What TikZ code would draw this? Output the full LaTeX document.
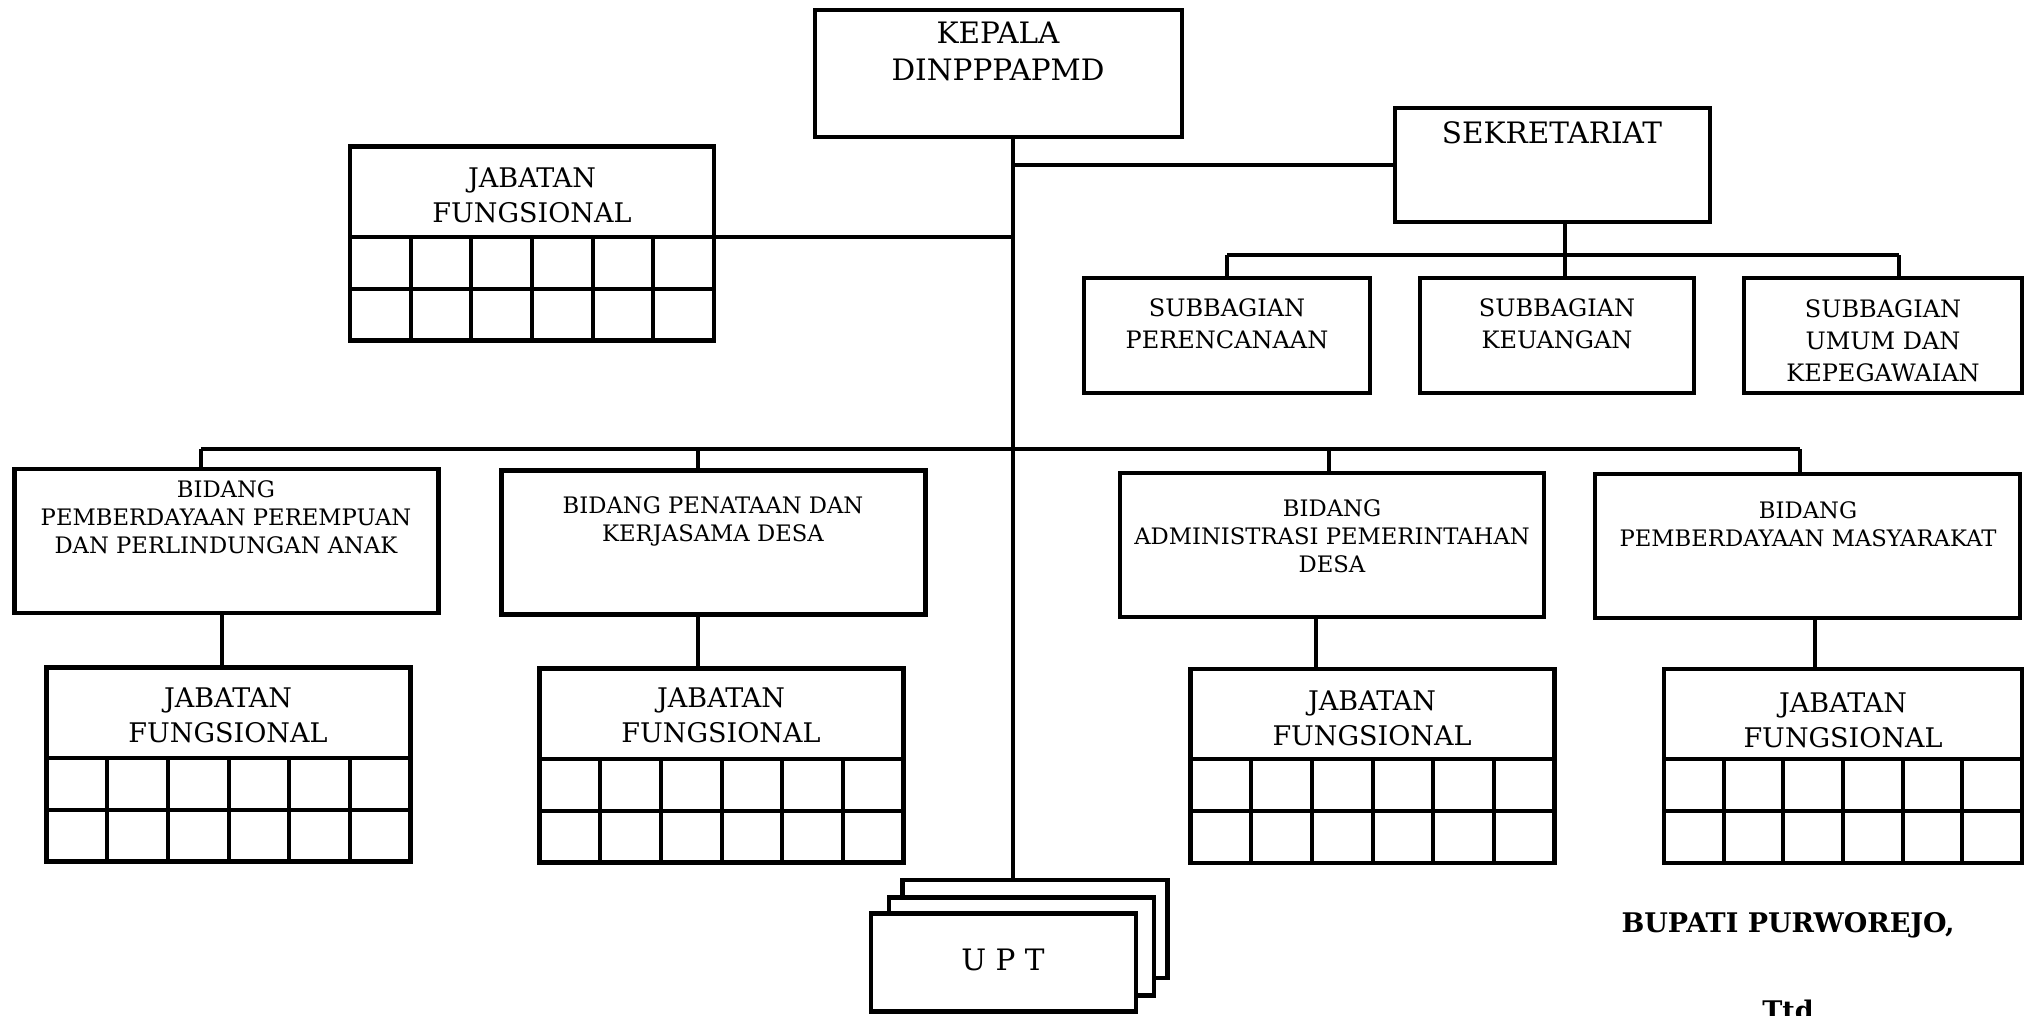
\documentclass[tikz,border=0pt]{standalone}
\usepackage{fontspec}
\setmainfont{DejaVu Serif}
\usetikzlibrary{calc}
\begin{document}
\begin{tikzpicture}
  [x=1pt,y=-1pt,
   box/.style={draw,line width=4.5pt,fill=white,inner sep=0pt,outer sep=0pt},
   txt/.style={align=center,inner sep=0pt},
   big/.style={txt,font=\fontsize{27}{35}\selectfont},
   head/.style={txt,font=\fontsize{29.5}{37}\selectfont},
   sub/.style={txt,font=\fontsize{24}{32}\selectfont},
   bid/.style={txt,font=\fontsize{22.7}{28}\selectfont},
   sign/.style={txt,font=\fontsize{27}{30}\selectfont\bfseries},
   jf/.style={box,minimum width=364,minimum height=194},
   bidang/.style={box,minimum width=424,minimum height=144},
   upt/.style={box,minimum width=265,minimum height=98},
   link/.style={line width=4pt}]
  \useasboundingbox (0,0) rectangle (2026,1015);

  % kepala and sekretariat
  \node[box,minimum width=367,minimum height=127] (kepala) at (998.5,73.5) {};
  \node[head] (kepalaT) at (998,51) {KEPALA\\DINPPPAPMD};
  \node[box,minimum width=315,minimum height=114] (sek) at (1552.5,165) {};
  \node[head] (sekT) at (1552,133) {SEKRETARIAT};

  \node[box,minimum width=286,minimum height=115] (sb1) at (1227,335.5) {};
  \node[box,minimum width=274,minimum height=115] (sb2) at (1557,335.5) {};
  \node[box,minimum width=278,minimum height=115] (sb3) at (1883,335.5) {};
  \node[sub] (sb1T) at (1227,324) {SUBBAGIAN\\PERENCANAAN};
  \node[sub] (sb2T) at (1557,324) {SUBBAGIAN\\KEUANGAN};
  \node[sub] (sb3T) at (1883,340.5) {SUBBAGIAN\\UMUM DAN\\KEPEGAWAIAN};

  % jabatan fungsional
  \node[jf] (jf0) at (532,243.5) {};
  \node[big] (jf0T) at (532,195) {JABATAN\\FUNGSIONAL};

  % bidang
  \node[bidang] (b1) at (226.5,541) {};
  \node[bidang] (b2) at (713.5,542.5) {};
  \node[bidang] (b3) at (1332,545) {};
  \node[bidang,minimum width=425] (b4) at (1807.5,546) {};
  \node[bid] (b1T) at (226,517) {BIDANG\\PEMBERDAYAAN PEREMPUAN\\DAN PERLINDUNGAN ANAK};
  \node[bid] (b2T) at (713,521) {BIDANG PENATAAN DAN\\KERJASAMA DESA};
  \node[bid] (b3T) at (1332,536.5) {BIDANG\\ADMINISTRASI PEMERINTAHAN\\DESA};
  \node[bid] (b4T) at (1808,524) {BIDANG\\PEMBERDAYAAN MASYARAKAT};

  \node[jf] (jf1) at (228.5,764.5) {};
  \node[jf] (jf2) at (721.5,765.5) {};
  \node[jf] (jf3) at (1372.5,766) {};
  \node[jf,minimum width=358] (jf4) at (1843,766) {};
  \node[big] (jf1T) at (228,715.5) {JABATAN\\FUNGSIONAL};
  \node[big] (jf2T) at (721,715) {JABATAN\\FUNGSIONAL};
  \node[big] (jf3T) at (1372,718.5) {JABATAN\\FUNGSIONAL};
  \node[big] (jf4T) at (1843,720) {JABATAN\\FUNGSIONAL};

  \foreach \n in {jf0,jf1,jf2,jf3,jf4} {
    \draw[link] ($(\n.north west)+(0,90)$) -- ($(\n.north east)+(0,90)$);
    \draw[link] ($(\n.north west)+(0,142)$) -- ($(\n.north east)+(0,142)$);
    \foreach \k in {1,...,5}
      \draw[link] ($(\n.north west)!\k/6!(\n.north east)+(0,90)$) -- ($(\n.south west)!\k/6!(\n.south east)$);
  }

  % upt
  \node[upt] (upt3) at (1035,929) {};
  \node[upt] (upt2) at (1021.5,946.5) {};
  \node[upt] (upt1) at (1003.5,962.5) {};
  \node[head] (uptT) at (1003,960) {U P T};

  \node[sign] (bupati) at (1788,925) {BUPATI PURWOREJO,};
  \node[sign] (ttd) at (1788,1010) {Ttd};

  % connectors
  \coordinate (t) at (1013,0);
  \draw[link] (kepala.south -| t) -- (upt3.north -| t);
  \draw[link] (sek.west) -- (sek.west -| t);
  \draw[link] ($(jf0.north east)+(0,90)$) coordinate (j0) -- (j0 -| t);

  \coordinate (s1) at (1227,255);
  \coordinate (s2) at (1565,255);
  \coordinate (s3) at (1899,255);
  \draw[link] (sek.south -| s2) -- (s2);
  \draw[link] (s1) -- (s3);
  \foreach \s/\b in {s1/sb1,s2/sb2,s3/sb3}
    \draw[link] (\s) -- (\s |- \b.north);

  \coordinate (d1) at (201,449);
  \coordinate (d2) at (698,449);
  \coordinate (d3) at (1329,449);
  \coordinate (d4) at (1800,449);
  \draw[link] (d1) -- (d4);
  \foreach \d/\b in {d1/b1,d2/b2,d3/b3,d4/b4}
    \draw[link] (\d) -- (\d |- \b.north);

  \coordinate (v1) at (222,0);
  \coordinate (v2) at (698,0);
  \coordinate (v3) at (1316,0);
  \coordinate (v4) at (1815,0);
  \foreach \v/\b/\j in {v1/b1/jf1,v2/b2/jf2,v3/b3/jf3,v4/b4/jf4}
    \draw[link] (\b.south -| \v) -- (\j.north -| \v);
\end{tikzpicture}
\end{document}
